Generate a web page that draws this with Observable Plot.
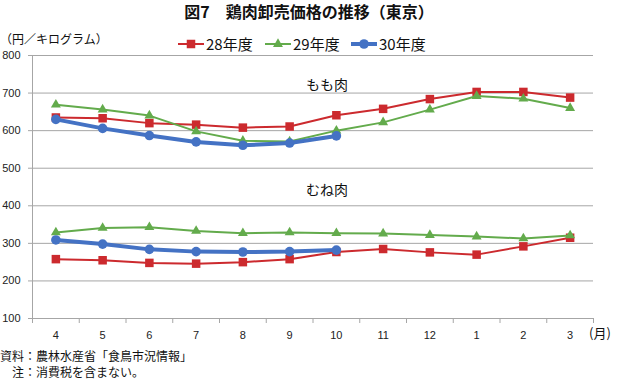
<!DOCTYPE html>
<html><head><meta charset="utf-8">
<script src="https://cdn.jsdelivr.net/npm/d3@7"></script>
<script src="https://cdn.jsdelivr.net/npm/@observablehq/plot@0.6"></script>
<style>
html,body{margin:0;padding:0;background:#fff;}
#wrap{position:relative;width:618px;height:380px;overflow:hidden;font-family:"Noto Sans CJK JP","Noto Sans",sans-serif;color:#111;}
.abs{position:absolute;white-space:nowrap;line-height:1.15;}
.foot{position:absolute;white-space:nowrap;line-height:1;font-size:12px;}
#chart{position:absolute;left:0;top:50px;}
</style></head>
<body><div id="wrap">
<div class="abs" style="left:0;width:618px;text-align:center;top:2px;font-size:16px;font-weight:bold;">図7　鶏肉卸売価格の推移（東京）</div>
<div class="abs" style="left:0px;top:32px;font-size:12px;">（円／キログラム）</div>
<div id="legend"></div>
<div class="abs" style="left:306px;top:76px;font-size:14px;">もも肉</div>
<div class="abs" style="left:306px;top:181px;font-size:14px;">むね肉</div>
<div class="abs" style="left:589px;top:326px;font-size:13px;">(月)</div>
<div class="foot" style="left:0px;top:350px;">資料：農林水産省「食鳥市況情報」</div>
<div class="foot" style="left:12px;top:366px;">注：消費税を含まない。</div>
<div id="chart"></div>
</div>
<script>
const months = ["4","5","6","7","8","9","10","11","12","1","2","3"];
const yTicks = [100,200,300,400,500,600,700,800];
const seriesNames = ["28年度","29年度","30年度"];
const colors = ["#cc2a2e","#63ab4c","#4472c4"];
const symbols = ["square","triangle","circle"];
const momo28 = [635,633,620,616,608,611,641,658,684,703,703,688];
const momo29 = [669,656,640,598,573,571,600,622,656,692,685,660];
const momo30 = [630,606,587,570,561,567,586];
const mune28 = [258,255,248,246,250,258,277,285,276,270,292,315];
const mune29 = [329,341,343,333,327,329,327,326,322,318,313,321];
const mune30 = [309,298,284,278,277,278,282];

const toRows = (arr, part) => arr.map((v,i)=>({i, v, part}));
const sets = [
  [...toRows(momo28,"もも肉"), ...toRows(mune28,"むね肉")],
  [...toRows(momo29,"もも肉"), ...toRows(mune29,"むね肉")],
  [...toRows(momo30,"もも肉"), ...toRows(mune30,"むね肉")]
];
const widths = [2, 2, 4];
const radii = [4.8, 3.7, 4.8];
const monthRows = months.map((m,i)=>({i,m}));
const bounds = d3.range(months.length+1).map(k=>k-0.5);
const grid = "#a6a6a6";
const xMin = -0.5, xMax = months.length-0.5;

const marks = [
  Plot.ruleY(yTicks, {y: d=>d, x1: xMin, x2: xMax, stroke: grid, strokeWidth: 1}),
  Plot.ruleY(yTicks, {y: d=>d, x1: xMin, x2: xMin, insetLeft: -4, stroke: grid}),
  Plot.ruleX([xMin], {x: d=>d, y1: yTicks[0], y2: yTicks[yTicks.length-1], stroke: grid}),
  Plot.ruleX(bounds, {x: d=>d, y1: yTicks[0], y2: yTicks[0], insetBottom: -5, stroke: grid}),
  Plot.text(yTicks, {x: xMin, y: d=>d, text: d=>String(d), dx: -12, textAnchor: "end", fontSize: 11, fill: "#222"}),
  Plot.text(monthRows, {x: "i", y: yTicks[0], text: "m", dy: 17, fontSize: 11, fill: "#222"})
];
sets.forEach((rows, k) => {
  marks.push(Plot.line(rows, {x: "i", y: "v", z: "part", stroke: colors[k], strokeWidth: widths[k]}));
  marks.push(Plot.dot(rows, {x: "i", y: "v", symbol: symbols[k], r: radii[k], fill: colors[k], stroke: "none"}));
});

const chart = Plot.plot({
  width: 618, height: 300,
  marginLeft: 32, marginRight: 25, marginTop: 5, marginBottom: 32,
  x: {domain: [xMin, xMax], axis: null},
  y: {domain: [yTicks[0], yTicks[yTicks.length-1]], axis: null},
  style: {fontFamily: "'Liberation Sans','Noto Sans CJK JP',sans-serif", background: "transparent", overflow: "visible"},
  marks
});
document.getElementById("chart").appendChild(chart);

// legend
const legendX = [178, 265, 351];
const leg = document.getElementById("legend");
seriesNames.forEach((name, k) => {
  const item = document.createElement("div");
  item.className = "abs";
  item.style.left = legendX[k] + "px";
  item.style.top = "35px";
  item.style.display = "flex";
  item.style.alignItems = "center";
  item.style.fontSize = "15px";
  const sw = d3.create("svg").attr("width", 27).attr("height", 16);
  sw.append("line").attr("x1", 0).attr("x2", 26).attr("y1", 8).attr("y2", 8)
    .attr("stroke", colors[k]).attr("stroke-width", widths[k]);
  sw.append("path").attr("transform", "translate(13,8)")
    .attr("d", d3.symbol(k===0?d3.symbolSquare:k===1?d3.symbolTriangle:d3.symbolCircle, Math.PI*radii[k]*radii[k])())
    .attr("fill", colors[k]);
  item.appendChild(sw.node());
  const t = document.createElement("span");
  t.textContent = name;
  t.style.marginLeft = "1px";
  item.appendChild(t);
  leg.appendChild(item);
});
</script>
</body></html>
